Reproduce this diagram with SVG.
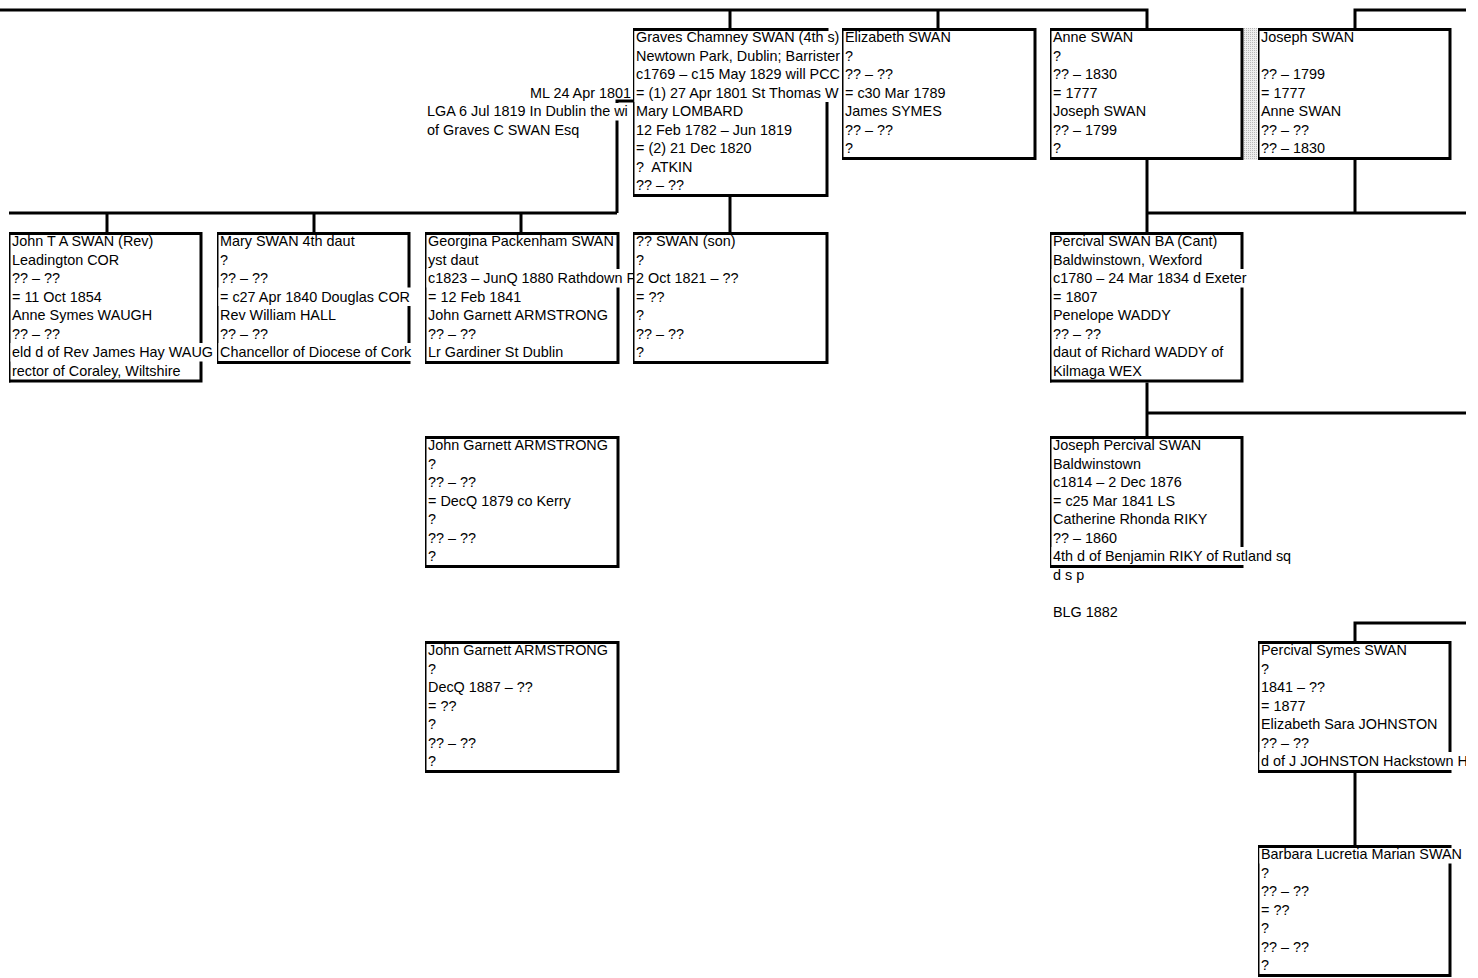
<svg xmlns="http://www.w3.org/2000/svg" width="1478" height="978" viewBox="0 0 1478 978">
<style>
.t{font-family:"Liberation Sans",Arial,Helvetica,sans-serif;font-size:14.4px;fill:#000}
.box{fill:#fff;stroke:none}
.bd{fill:none;stroke:#000;stroke-width:3;stroke-linejoin:miter}
.lb{fill:none;stroke:#000;stroke-width:1.5}
.bg{fill:#fff;stroke:none}
.cn{fill:none;stroke:#000;stroke-width:3;stroke-linejoin:miter}
</style>
<defs>
<pattern id="dots" width="2" height="2" patternUnits="userSpaceOnUse"><rect width="2" height="2" fill="#eeeeee"/><rect width="1" height="1" fill="#b8b8b8"/></pattern>
<clipPath id="clipR"><rect x="0" y="0" width="1466" height="978"/></clipPath>
</defs>
<rect width="1478" height="978" fill="#fff"/>
<g id="connectors">
<path class="cn" d="M0 10H1147V28"/>
<path class="cn" d="M730 10V28"/>
<path class="cn" d="M938 10V28"/>
<path class="cn" d="M1466 10H1355V28"/>
<path class="cn" d="M633 101H617V213"/>
<path class="cn" d="M9 213H617"/>
<path class="cn" d="M107 213V232"/>
<path class="cn" d="M314 213V232"/>
<path class="cn" d="M521 213V232"/>
<path class="cn" d="M730 197V232"/>
<path class="cn" d="M1147 160V232"/>
<path class="cn" d="M1355 160V213"/>
<path class="cn" d="M1147 213H1466"/>
<path class="cn" d="M1147 382V436"/>
<path class="cn" d="M1147 413H1466"/>
<path class="cn" d="M1466 623H1355V641"/>
<path class="cn" d="M1355 773V845"/>
</g>
<g id="notes">
<text class="t" x="631" y="97.9" text-anchor="end">ML 24 Apr 1801</text>
<rect class="bg" x="426" y="103" width="207" height="17.5"/>
<text class="t" x="427" y="116.4">LGA 6 Jul 1819 In Dublin the wi</text>
<text class="t" x="427" y="134.9">of Graves C SWAN Esq</text>
</g>
<g id="n-graves">
<rect class="box" x="633" y="28" width="195.5" height="169"/>
<path class="bd" d="M633 29.5H827V195.5H633"/>
<path class="lb" d="M633.75 28V197"/>
<rect class="bg" x="634.5" y="31" width="207.5" height="71"/>
<text class="t" x="636" y="42.4">Graves Chamney SWAN (4th s)</text>
<text class="t" x="636" y="60.9">Newtown Park, Dublin; Barrister</text>
<text class="t" x="636" y="79.4">c1769 – c15 May 1829 will PCC</text>
<text class="t" x="636" y="97.9">= (1) 27 Apr 1801 St Thomas W</text>
<text class="t" x="636" y="116.4">Mary LOMBARD</text>
<text class="t" x="636" y="134.9">12 Feb 1782 – Jun 1819</text>
<text class="t" x="636" y="153.4">= (2) 21 Dec 1820</text>
<text class="t" x="636" y="171.9" xml:space="preserve">?  ATKIN</text>
<text class="t" x="636" y="190.4">?? – ??</text>
</g>
<g id="n-elizabeth">
<rect class="box" x="842" y="28" width="194.5" height="132"/>
<path class="bd" d="M842 29.5H1035V158.5H842"/>
<path class="lb" d="M842.75 28V160"/>
<text class="t" x="845" y="42.4">Elizabeth SWAN</text>
<text class="t" x="845" y="60.9">?</text>
<text class="t" x="845" y="79.4">?? – ??</text>
<text class="t" x="845" y="97.9">= c30 Mar 1789</text>
<text class="t" x="845" y="116.4">James SYMES</text>
<text class="t" x="845" y="134.9">?? – ??</text>
<text class="t" x="845" y="153.4">?</text>
</g>
<g id="n-anne">
<rect class="box" x="1050" y="28" width="193.5" height="132"/>
<path class="bd" d="M1050 29.5H1242V158.5H1050"/>
<path class="lb" d="M1050.75 28V160"/>
<text class="t" x="1053" y="42.4">Anne SWAN</text>
<text class="t" x="1053" y="60.9">?</text>
<text class="t" x="1053" y="79.4">?? – 1830</text>
<text class="t" x="1053" y="97.9">= 1777</text>
<text class="t" x="1053" y="116.4">Joseph SWAN</text>
<text class="t" x="1053" y="134.9">?? – 1799</text>
<text class="t" x="1053" y="153.4">?</text>
</g>
<rect x="1244" y="28" width="13.5" height="132" fill="url(#dots)"/>
<g id="n-joseph">
<rect class="box" x="1258" y="28" width="193.5" height="132"/>
<path class="bd" d="M1258 29.5H1450V158.5H1258"/>
<path class="lb" d="M1258.75 28V160"/>
<text class="t" x="1261" y="42.4">Joseph SWAN</text>
<text class="t" x="1261" y="79.4">?? – 1799</text>
<text class="t" x="1261" y="97.9">= 1777</text>
<text class="t" x="1261" y="116.4">Anne SWAN</text>
<text class="t" x="1261" y="134.9">?? – ??</text>
<text class="t" x="1261" y="153.4">?? – 1830</text>
</g>
<g id="n-john">
<rect class="box" x="9" y="232" width="193.5" height="150.5"/>
<path class="bd" d="M9 233.5H201V381H9"/>
<path class="lb" d="M9.75 232V382.5"/>
<rect class="bg" x="10.5" y="343" width="206.5" height="18.5"/>
<text class="t" x="12" y="246.4">John T A SWAN (Rev)</text>
<text class="t" x="12" y="264.9">Leadington COR</text>
<text class="t" x="12" y="283.4">?? – ??</text>
<text class="t" x="12" y="301.9">= 11 Oct 1854</text>
<text class="t" x="12" y="320.4">Anne Symes WAUGH</text>
<text class="t" x="12" y="338.9">?? – ??</text>
<text class="t" x="12" y="357.4">eld d of Rev James Hay WAUG</text>
<text class="t" x="12" y="375.9">rector of Coraley, Wiltshire</text>
</g>
<g id="n-mary">
<rect class="box" x="217" y="232" width="193.5" height="132"/>
<path class="bd" d="M217 233.5H409V362.5H217"/>
<path class="lb" d="M217.75 232V364"/>
<rect class="bg" x="218.5" y="287.5" width="195" height="18.5"/>
<rect class="bg" x="218.5" y="343" width="195" height="18"/>
<text class="t" x="220" y="246.4">Mary SWAN 4th daut</text>
<text class="t" x="220" y="264.9">?</text>
<text class="t" x="220" y="283.4">?? – ??</text>
<text class="t" x="220" y="301.9">= c27 Apr 1840 Douglas COR</text>
<text class="t" x="220" y="320.4">Rev William HALL</text>
<text class="t" x="220" y="338.9">?? – ??</text>
<text class="t" x="220" y="357.4">Chancellor of Diocese of Cork</text>
</g>
<g id="n-georgina">
<rect class="box" x="425" y="232" width="194.5" height="132"/>
<path class="bd" d="M425 233.5H618V362.5H425"/>
<path class="lb" d="M425.75 232V364"/>
<rect class="bg" x="426.5" y="269" width="206.5" height="18.5"/>
<text class="t" x="428" y="246.4">Georgina Packenham SWAN</text>
<text class="t" x="428" y="264.9">yst daut</text>
<text class="t" x="428" y="283.4">c1823 – JunQ 1880 Rathdown F</text>
<text class="t" x="428" y="301.9">= 12 Feb 1841</text>
<text class="t" x="428" y="320.4">John Garnett ARMSTRONG</text>
<text class="t" x="428" y="338.9">?? – ??</text>
<text class="t" x="428" y="357.4">Lr Gardiner St Dublin</text>
</g>
<g id="n-son">
<rect class="box" x="633" y="232" width="195.5" height="132"/>
<path class="bd" d="M633 233.5H827V362.5H633"/>
<path class="lb" d="M633.75 232V364"/>
<text class="t" x="636" y="246.4">?? SWAN (son)</text>
<text class="t" x="636" y="264.9">?</text>
<text class="t" x="636" y="283.4">2 Oct 1821 – ??</text>
<text class="t" x="636" y="301.9">= ??</text>
<text class="t" x="636" y="320.4">?</text>
<text class="t" x="636" y="338.9">?? – ??</text>
<text class="t" x="636" y="357.4">?</text>
</g>
<g id="n-percival">
<rect class="box" x="1050" y="232" width="193.5" height="150.5"/>
<path class="bd" d="M1050 233.5H1242V381H1050"/>
<path class="lb" d="M1050.75 232V382.5"/>
<rect class="bg" x="1051.5" y="269" width="197" height="18.5"/>
<text class="t" x="1053" y="246.4">Percival SWAN BA (Cant)</text>
<text class="t" x="1053" y="264.9">Baldwinstown, Wexford</text>
<text class="t" x="1053" y="283.4">c1780 – 24 Mar 1834 d Exeter</text>
<text class="t" x="1053" y="301.9">= 1807</text>
<text class="t" x="1053" y="320.4">Penelope WADDY</text>
<text class="t" x="1053" y="338.9">?? – ??</text>
<text class="t" x="1053" y="357.4">daut of Richard WADDY of</text>
<text class="t" x="1053" y="375.9">Kilmaga WEX</text>
</g>
<g id="n-armstrong1">
<rect class="box" x="425" y="436" width="194.5" height="132"/>
<path class="bd" d="M425 437.5H618V566.5H425"/>
<path class="lb" d="M425.75 436V568"/>
<text class="t" x="428" y="450.4">John Garnett ARMSTRONG</text>
<text class="t" x="428" y="468.9">?</text>
<text class="t" x="428" y="487.4">?? – ??</text>
<text class="t" x="428" y="505.9">= DecQ 1879 co Kerry</text>
<text class="t" x="428" y="524.4">?</text>
<text class="t" x="428" y="542.9">?? – ??</text>
<text class="t" x="428" y="561.4">?</text>
</g>
<g id="n-josephpercival">
<rect class="box" x="1050" y="436" width="193.5" height="132"/>
<path class="bd" d="M1050 437.5H1242V566.5H1050"/>
<path class="lb" d="M1050.75 436V568"/>
<rect class="bg" x="1051.5" y="547" width="242" height="18"/>
<text class="t" x="1053" y="450.4">Joseph Percival SWAN</text>
<text class="t" x="1053" y="468.9">Baldwinstown</text>
<text class="t" x="1053" y="487.4">c1814 – 2 Dec 1876</text>
<text class="t" x="1053" y="505.9">= c25 Mar 1841 LS</text>
<text class="t" x="1053" y="524.4">Catherine Rhonda RIKY</text>
<text class="t" x="1053" y="542.9">?? – 1860</text>
<text class="t" x="1053" y="561.4">4th d of Benjamin RIKY of Rutland sq</text>
<text class="t" x="1053" y="579.9">d s p</text>
<text class="t" x="1053" y="616.9">BLG 1882</text>
</g>
<g id="n-armstrong2">
<rect class="box" x="425" y="641" width="194.5" height="132"/>
<path class="bd" d="M425 642.5H618V771.5H425"/>
<path class="lb" d="M425.75 641V773"/>
<text class="t" x="428" y="655.4">John Garnett ARMSTRONG</text>
<text class="t" x="428" y="673.9">?</text>
<text class="t" x="428" y="692.4">DecQ 1887 – ??</text>
<text class="t" x="428" y="710.9">= ??</text>
<text class="t" x="428" y="729.4">?</text>
<text class="t" x="428" y="747.9">?? – ??</text>
<text class="t" x="428" y="766.4">?</text>
</g>
<g id="n-percivalsymes">
<rect class="box" x="1258" y="641" width="193.5" height="132"/>
<path class="bd" d="M1258 642.5H1450V771.5H1258"/>
<path class="lb" d="M1258.75 641V773"/>
<rect class="bg" x="1259.5" y="752" width="207" height="18"/>
<text class="t" x="1261" y="655.4">Percival Symes SWAN</text>
<text class="t" x="1261" y="673.9">?</text>
<text class="t" x="1261" y="692.4">1841 – ??</text>
<text class="t" x="1261" y="710.9">= 1877</text>
<text class="t" x="1261" y="729.4">Elizabeth Sara JOHNSTON</text>
<text class="t" x="1261" y="747.9">?? – ??</text>
<text class="t" x="1261" y="766.4" clip-path="url(#clipR)">d of J JOHNSTON Hackstown H</text>
</g>
<g id="n-barbara">
<rect class="box" x="1258" y="845" width="193.5" height="132"/>
<path class="bd" d="M1258 846.5H1450V975.5H1258"/>
<path class="lb" d="M1258.75 845V977"/>
<rect class="bg" x="1259.5" y="848" width="205" height="15.5"/>
<text class="t" x="1261" y="859.4">Barbara Lucretia Marian SWAN</text>
<text class="t" x="1261" y="877.9">?</text>
<text class="t" x="1261" y="896.4">?? – ??</text>
<text class="t" x="1261" y="914.9">= ??</text>
<text class="t" x="1261" y="933.4">?</text>
<text class="t" x="1261" y="951.9">?? – ??</text>
<text class="t" x="1261" y="970.4">?</text>
</g>
</svg>
